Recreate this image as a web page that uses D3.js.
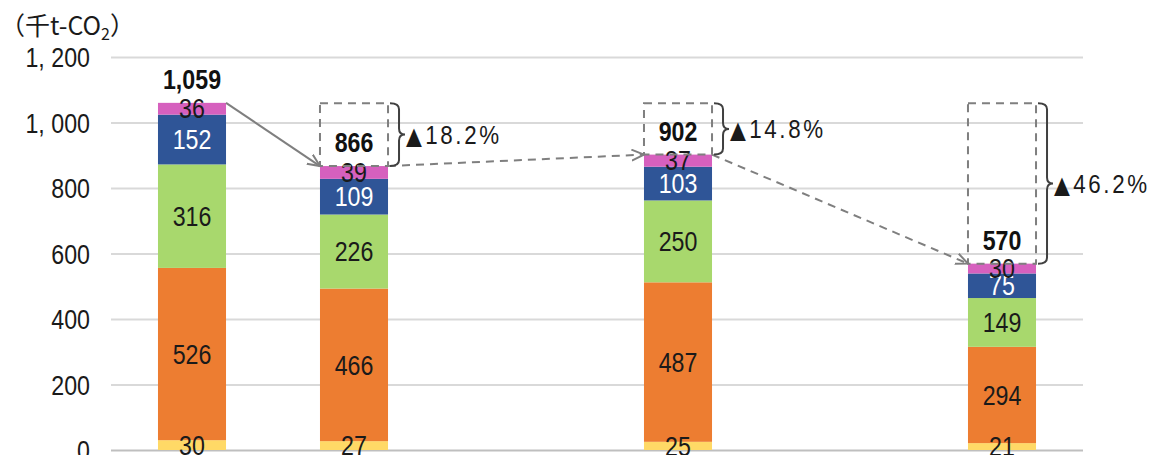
<!DOCTYPE html>
<html>
<head>
<meta charset="utf-8">
<script src="https://cdn.jsdelivr.net/npm/d3@7"></script>
<style>
  html, body { margin: 0; padding: 0; background: #fff; }
  svg { display: block; }
</style>
</head>
<body>
<svg id="chart" width="1166" height="455"></svg>
<script>
// ---- data ----
const categories = ["bar1", "bar2", "bar3", "bar4"];
const slots = ["bar1", "bar2", "gapA", "bar3", "gapB", "bar4"]; // x slots incl. empty spacer slots
const seriesKeys = ["yellow", "orange", "green", "blue", "pink"];
const yellowValues = [30, 27, 25, 21];
const orangeValues = [526, 466, 487, 294];
const greenValues  = [316, 226, 250, 149];
const blueValues   = [152, 109, 103, 75];
const pinkValues   = [36, 39, 37, 30];
const totalValues  = [1059, 866, 902, 570];
const changeLabels = [null, "18.2%", "14.8%", "46.2%"];
const changeMark = "▲";
const yTickValues  = [0, 200, 400, 600, 800, 1000, 1200];
const unitLabel = ["（千t-CO", "2", "）"];

// ---- styles ----
const colors = { yellow: "#FFD966", orange: "#ED7D31", green: "#A8D86D", blue: "#2F5597", pink: "#D660BE" };
const numFont = "'Liberation Sans', Arial, sans-serif";
const SX = 0.86; // horizontal squeeze for the narrow numeric face

const rows = categories.map((c, i) => ({
  cat: c,
  yellow: yellowValues[i], orange: orangeValues[i], green: greenValues[i],
  blue: blueValues[i], pink: pinkValues[i]
}));
const stacked = d3.stack().keys(seriesKeys)(rows);

const svg = d3.select("#chart");
const x = d3.scaleBand().domain(slots).range([111, 1083]).paddingInner(0.58).paddingOuter(0.29);
const y = d3.scaleLinear().domain([0, 1200]).range([450, 57]);

function numText(g, px, py, str, opts = {}) {
  return g.append("text")
    .attr("transform", `translate(${px},${py}) scale(${SX},1)`)
    .attr("text-anchor", opts.anchor || "middle")
    .attr("dy", opts.dy || null)
    .attr("font-family", numFont)
    .attr("font-size", opts.size || 27)
    .attr("font-weight", opts.weight || null)
    .attr("letter-spacing", opts.ls || null)
    .attr("fill", opts.fill || "#1a1a1a")
    .text(str);
}

// grid + y axis
const yAxis = d3.axisLeft(y).tickValues(yTickValues).tickSize(-(1083 - 111)).tickPadding(0)
  .tickFormat(d => d3.format(",")(d).replace(",", ", "));
const gy = svg.append("g").attr("transform", "translate(111,0)").call(yAxis);
gy.select(".domain").remove();
gy.selectAll(".tick line").attr("stroke", d => d === 0 ? "#bfbfbf" : "#d9d9d9").attr("stroke-width", 2);
gy.selectAll(".tick text")
  .attr("x", null).attr("dy", "0.36em")
  .attr("transform", `translate(-21,0) scale(${SX},1)`)
  .attr("font-family", numFont).attr("font-size", 27).attr("fill", "#1a1a1a");

// unit label
const ut = svg.append("text").attr("x", 0).attr("y", 35)
  .attr("font-family", "'Noto Sans CJK JP', sans-serif").attr("font-size", 25).attr("fill", "#1a1a1a");
ut.append("tspan").text(unitLabel[0]);
ut.append("tspan").text(unitLabel[1]).attr("font-size", 16).attr("dy", 5);
ut.append("tspan").text(unitLabel[2]).attr("dy", -5);

// bars
const layers = svg.append("g").selectAll("g").data(stacked).join("g")
  .attr("fill", d => colors[d.key]);
layers.selectAll("rect").data(d => d).join("rect")
  .attr("x", d => x(d.data.cat))
  .attr("width", x.bandwidth())
  .attr("y", d => y(d[1]))
  .attr("height", d => y(d[0]) - y(d[1]));

// segment labels
const labelG = svg.append("g");
stacked.forEach(layer => {
  layer.forEach(d => {
    numText(labelG, x(d.data.cat) + x.bandwidth() / 2, (y(d[0]) + y(d[1])) / 2, d.data[layer.key],
      { dy: "0.36em", fill: layer.key === "blue" ? "#ffffff" : "#1a1a1a" });
  });
});

const topOf = i => stacked[stacked.length - 1][i][1];
const left = i => x(categories[i]);
const right = i => x(categories[i]) + x.bandwidth();

// dashed boxes (base year level down to each bar top)
for (let i = 1; i < categories.length; i++) {
  svg.append("rect")
    .attr("x", left(i)).attr("y", y(totalValues[0]))
    .attr("width", x.bandwidth()).attr("height", y(topOf(i)) - y(totalValues[0]))
    .attr("fill", "none").attr("stroke", "#7f7f7f").attr("stroke-width", 2)
    .attr("stroke-dasharray", "8,6");
}

// arrow marker
const defs = svg.append("defs");
defs.append("marker").attr("id", "arrow").attr("viewBox", "0 0 10 10")
  .attr("refX", 9.5).attr("refY", 5).attr("markerWidth", 13).attr("markerHeight", 13)
  .attr("markerUnits", "userSpaceOnUse").attr("orient", "auto")
  .append("path").attr("d", "M0,0.8 L9.5,5 L0,9.2").attr("fill", "none")
  .attr("stroke", "#7f7f7f").attr("stroke-width", 1.5).attr("stroke-dasharray", "none");

for (let i = 0; i < categories.length - 1; i++) {
  svg.append("line")
    .attr("x1", right(i)).attr("y1", y(topOf(i)))
    .attr("x2", left(i + 1)).attr("y2", y(topOf(i + 1)))
    .attr("stroke", "#7f7f7f").attr("stroke-width", 2)
    .attr("stroke-dasharray", i === 0 ? null : "8,6")
    .attr("marker-end", "url(#arrow)");
}

// braces + change labels
for (let i = 1; i < categories.length; i++) {
  const x0 = right(i) + 2, xv = right(i) + 11, xt = right(i) + 17;
  const y0 = y(totalValues[0]), y1 = y(topOf(i)), ym = (y0 + y1) / 2;
  const r = 6;
  const p = `M${x0},${y0} Q${xv},${y0} ${xv},${y0 + r} L${xv},${ym - r} Q${xv},${ym} ${xt},${ym} ` +
            `Q${xv},${ym} ${xv},${ym + r} L${xv},${y1 - r} Q${xv},${y1} ${x0},${y1}`;
  svg.append("path").attr("d", p).attr("fill", "none").attr("stroke", "#404040").attr("stroke-width", 2);
  const t = numText(svg, xt + 1, ym, "", { anchor: "start", dy: "0.36em", size: 26, ls: 3 });
  t.append("tspan").attr("font-family", "'DejaVu Sans', sans-serif").attr("font-size", 24)
    .attr("letter-spacing", 4).text(changeMark);
  t.append("tspan").text(changeLabels[i]);
}

// total labels
const totG = svg.append("g");
categories.forEach((c, i) => {
  numText(totG, left(i) + x.bandwidth() / 2, y(topOf(i)) - 14, d3.format(",")(totalValues[i]),
    { weight: "bold", fill: "#111" });
});
</script>
</body>
</html>
